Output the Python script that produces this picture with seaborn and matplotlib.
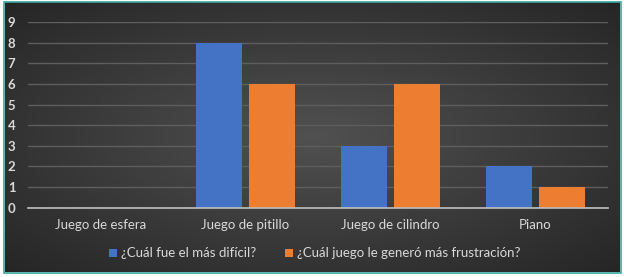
import numpy as np
import pandas as pd
import seaborn as sns
import matplotlib.pyplot as plt
from matplotlib.patches import Rectangle

# datos
juegos = ['Juego de esfera', 'Juego de pitillo', 'Juego de cilindro', 'Piano']
mas_dificil = [0, 8, 3, 2]
mas_frustracion = [0, 6, 6, 1]
series = ['¿Cuál fue el más difícil?', '¿Cuál juego le generó más frustración?']

df = pd.DataFrame({
    'juego': juegos * 2,
    'valor': mas_dificil + mas_frustracion,
    'serie': [series[0]] * 4 + [series[1]] * 4,
})

sns.set_style('dark')
plt.rcParams['font.family'] = ['Lato', 'DejaVu Sans']

fig = plt.figure(figsize=(6.24, 2.77), dpi=100, facecolor='white')

# fondo oscuro con degradado radial
bg = fig.add_axes([5/624, 5/277, 615/624, 270/277], zorder=0)
yy, xx = np.mgrid[-1:1:200j, -1:1:400j]
r = np.sqrt(xx**2 + yy**2) / np.sqrt(2)
bg.imshow(r, cmap=sns.dark_palette('#555555', reverse=True, as_cmap=True),
          vmin=-0.1, vmax=1.0, aspect='auto', extent=[0, 1, 0, 1])
bg.set_axis_off()
fig.patches.append(Rectangle((4/624, 4/277), 617/624, 271/277, transform=fig.transFigure,
                             fill=False, edgecolor='#3aa8a0', linewidth=1.2, zorder=5))

ax = fig.add_axes([28/624, 69.3/277, 580/624, 185.7/277], zorder=1)
ax.patch.set_alpha(0)
sns.barplot(data=df, x='juego', y='valor', hue='serie', order=juegos, hue_order=series,
            palette=['#4472C4', '#ED7D31'], width=0.74, gap=0.14, saturation=1,
            linewidth=0, edgecolor='none', ax=ax, zorder=3)

ax.set_ylim(0, 9)
ax.set_xlim(-0.5, 3.5)
ax.set_yticks(range(0, 10))
ax.grid(axis='y', color='#5e5e5e', linewidth=1, zorder=0)
ax.grid(axis='x', visible=False)
for s in ['top', 'right', 'left']:
    ax.spines[s].set_visible(False)
ax.spines['bottom'].set_color('#bfbfbf')
ax.spines['bottom'].set_linewidth(1.2)
ax.spines['bottom'].set_zorder(4)
ax.tick_params(axis='both', length=0, colors='#d9d9d9')
ax.tick_params(axis='x', labelsize=9.5, pad=8)
ax.tick_params(axis='y', labelsize=9.5, pad=9)
for t in ax.get_yticklabels():
    t.set_fontweight('bold')
ax.set_xlabel('')
ax.set_ylabel('')

leg = ax.legend(loc='upper center', bbox_to_anchor=(0.495, -0.15), ncol=2, frameon=False,
                fontsize=9.5, handlelength=0.6, handleheight=0.6, handletextpad=0.3,
                columnspacing=2.2, labelcolor='#d9d9d9')
for h in leg.legend_handles:
    h.set_edgecolor('none')
    h.set_linewidth(0)

fig.savefig('out.png', dpi=100, facecolor='white')
